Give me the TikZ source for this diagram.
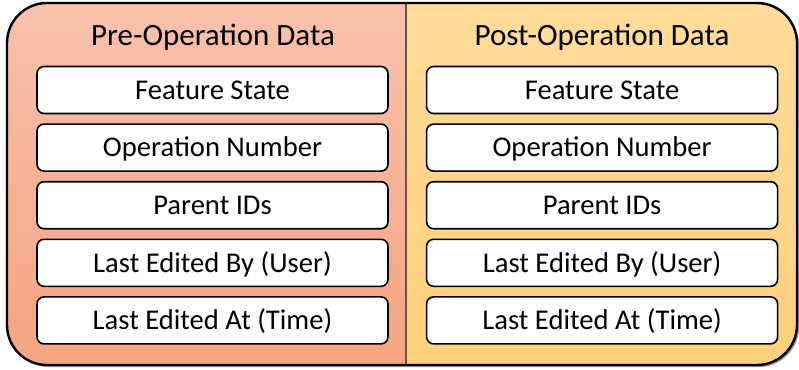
\documentclass[tikz,border=0pt]{standalone}
\usepackage{fontspec}
\setmainfont{Carlito}
\usetikzlibrary{positioning}
\definecolor{preTop}{RGB}{248,193,172}
\definecolor{preBot}{RGB}{245,164,128}
\definecolor{postTop}{RGB}{255,220,152}
\definecolor{postBot}{RGB}{255,208,124}
\definecolor{divLine}{RGB}{105,85,70}
\tikzset{
  field/.style = {
    rectangle, rounded corners=3.5pt, draw=black, line width=0.8pt,
    fill=white, minimum width=175.5pt, minimum height=23.5pt,
    inner sep=0pt, text height=9.2pt, text depth=0pt,
    font=\fontsize{14.3}{17}\selectfont, align=center
  },
  heading/.style = {
    inner sep=0pt, text height=10pt, text depth=0pt,
    font=\fontsize{15.5}{18}\selectfont
  },
  panel/.style = {rounded corners=20pt}
}

\begin{document}
\begin{tikzpicture}[x=0.5pt, y=-0.5pt, node distance=4.5pt]
  \useasboundingbox (0,0) rectangle (799,370);

  % background panels
  \fill[black!40, panel] (9,6) rectangle (799,367);
  \begin{scope}
    \clip[panel] (7,3) rectangle (797,365);
    \shade[top color=preTop, bottom color=preBot] (7,3) rectangle (406,365);
    \shade[top color=postTop, bottom color=postBot] (406,3) rectangle (797,365);
  \end{scope}
  \draw[divLine, line width=0.6pt] (406,3) -- (406,365);
  \draw[line width=1.2pt, panel] (7,3) rectangle (797,365);

  \node[heading] (preTitle)  at (213,35.5) {Pre-Operation Data};
  \node[heading] (postTitle) at (602,35.5) {Post-Operation Data};

  \node[field] (preState)  at (212.5,90)          {Feature State};
  \node[field] (preNumber) [below=of preState]  {Operation Number};
  \node[field] (preParent) [below=of preNumber] {Parent IDs};
  \node[field] (preUser)   [below=of preParent] {Last Edited By (User)};
  \node[field] (preTime)   [below=of preUser]   {Last Edited At (Time)};

  \node[field] (postState)  [right=18.5pt of preState] {Feature State};
  \node[field] (postNumber) [below=of postState]  {Operation Number};
  \node[field] (postParent) [below=of postNumber] {Parent IDs};
  \node[field] (postUser)   [below=of postParent] {Last Edited By (User)};
  \node[field] (postTime)   [below=of postUser]   {Last Edited At (Time)};

\end{tikzpicture}
\end{document}
